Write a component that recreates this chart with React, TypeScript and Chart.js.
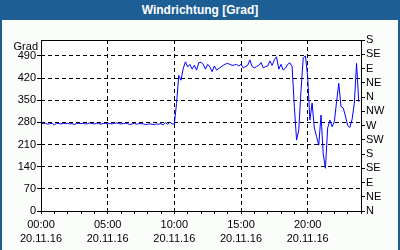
import { useEffect, useRef } from "react";
import { Chart, registerables } from "chart.js";

Chart.register(...registerables);

const titleText = "Windrichtung [Grad]";
const unitLabel = "Grad";
const sampleMinutes = 10;
const dateLabel = "20.11.16";
const xLabelHours = [0, 5, 10, 15, 20];
const xLabelTimes = ["00:00", "05:00", "10:00", "15:00", "20:00"];
const leftTicks = [0, 70, 140, 210, 280, 350, 420, 490];
const rightTickValues = [0, 45, 90, 135, 180, 225, 270, 315, 360, 405, 450, 495, 540];
const rightTickLabels = ["N", "NE", "E", "SE", "S", "SW", "W", "NW", "N", "NE", "E", "SE", "S"];

// wind direction in degrees, one value per 10 minutes from 00:00
const windDirection = [
  278, 276, 277, 274, 276, 277,
  272, 277, 276, 275, 277, 276,
  277, 275, 276, 273, 276, 277,
  276, 277, 275, 276, 278, 276,
  275, 277, 276, 274, 277, 276,
  277, 276, 275, 277, 278, 276,
  275, 276, 277, 276, 273, 275,
  277, 274, 276, 276, 275, 273,
  274, 275, 274, 273, 275, 274,
  276, 272, 279, 274, 281, 275,
  275, 340, 428, 413, 450, 471,
  455, 463, 448, 460, 445, 468,
  470, 463, 448, 463, 455, 440,
  458, 445, 450, 455, 460, 464,
  466, 463, 460, 461, 463, 458,
  463, 452, 456, 460, 477, 456,
  452, 456, 460, 469, 452, 456,
  458, 474, 460, 477, 487, 448,
  463, 445, 451, 463, 468, 456,
  330, 224, 256, 380, 483, 490,
  424, 287, 341, 262, 235, 208,
  303, 180, 135, 262, 287, 266,
  282, 345, 403, 330, 325, 300,
  270, 264, 290, 341, 466, 345,
];

const frameBlue = "#1d5f94";
const lineBlue = "#0000ff";
const panelBg = "#fbfdfb";
const fontFamily = "'Liberation Sans', Arial, sans-serif";

export default function App() {
  const canvasRef = useRef<HTMLCanvasElement | null>(null);

  useEffect(() => {
    const canvas = canvasRef.current;
    if (!canvas) return;

    const points = windDirection.map((v, i) => ({ x: (i * sampleMinutes) / 60, y: v }));

    const framePlugin = {
      id: "frame",
      beforeDraw(chart: any) {
        const { ctx, chartArea } = chart;
        ctx.save();
        ctx.fillStyle = "#ffffff";
        ctx.fillRect(chartArea.left, chartArea.top, chartArea.right - chartArea.left, chartArea.bottom - chartArea.top);
        ctx.restore();
      },
      afterDraw(chart: any) {
        const { ctx, chartArea } = chart;
        ctx.save();
        ctx.strokeStyle = "#000000";
        ctx.lineWidth = 1;
        ctx.setLineDash([]);
        ctx.strokeRect(
          chartArea.left + 0.5,
          chartArea.top + 0.5,
          chartArea.right - chartArea.left,
          chartArea.bottom - chartArea.top
        );
        ctx.fillStyle = "#000000";
        ctx.font = "11px " + fontFamily;
        ctx.textAlign = "right";
        ctx.textBaseline = "alphabetic";
        ctx.fillText(unitLabel, chartArea.left - 3, chartArea.top + 10);
        ctx.restore();
      },
    };

    const chart = new Chart(canvas, {
      type: "line",
      data: {
        datasets: [
          {
            data: points,
            borderColor: lineBlue,
            borderWidth: 1,
            pointRadius: 0,
            tension: 0,
            fill: false,
            yAxisID: "y",
          },
        ],
      },
      options: {
        responsive: false,
        animation: false,
        events: [],
        layout: { padding: { top: 20, left: 0, right: 0, bottom: 0 } },
        plugins: {
          legend: { display: false },
          tooltip: { enabled: false },
          title: { display: false },
        },
        scales: {
          x: {
            type: "linear",
            min: 0,
            max: 24,
            afterBuildTicks: (scale: any) => {
              const t = [];
              for (let h = 0; h <= 24; h++) t.push({ value: h });
              scale.ticks = t;
            },
            afterFit: (scale: any) => {
              scale.height = 39;
            },
            ticks: {
              autoSkip: false,
              maxRotation: 0,
              minRotation: 0,
              padding: 4,
              color: "#000000",
              font: { family: fontFamily, size: 11, lineHeight: 1.3 },
              callback: (value: any) => {
                const idx = xLabelHours.indexOf(Number(value));
                return idx >= 0 ? [xLabelTimes[idx], dateLabel] : "";
              },
            },
            grid: {
              color: (ctx: any) => {
                const v = ctx.tick ? ctx.tick.value : -1;
                return v > 0 && v < 24 && v % 5 === 0 ? "#000000" : "rgba(0,0,0,0)";
              },
              lineWidth: 1,
              tickColor: "#000000",
              tickLength: 3,
              tickBorderDash: [],
            },
            border: { display: false, dash: [4, 3] },
          },
          y: {
            type: "linear",
            position: "left",
            min: 0,
            max: 540,
            afterBuildTicks: (scale: any) => {
              scale.ticks = leftTicks.map((v) => ({ value: v }));
            },
            afterFit: (scale: any) => {
              scale.width = 39;
            },
            ticks: {
              autoSkip: false,
              padding: 1,
              color: "#000000",
              font: { family: fontFamily, size: 11 },
              callback: (value: any) => String(value),
            },
            grid: {
              color: (ctx: any) => {
                const v = ctx.tick ? ctx.tick.value : 0;
                return v > 0 ? "#000000" : "rgba(0,0,0,0)";
              },
              lineWidth: 1,
              tickColor: "#000000",
              tickLength: 4,
              tickBorderDash: [],
            },
            border: { display: false, dash: [4, 3] },
          },
          y1: {
            type: "linear",
            position: "right",
            min: 0,
            max: 540,
            afterBuildTicks: (scale: any) => {
              scale.ticks = rightTickValues.map((v) => ({ value: v }));
            },
            afterFit: (scale: any) => {
              scale.width = 37;
            },
            ticks: {
              autoSkip: false,
              padding: 1,
              color: "#000000",
              font: { family: fontFamily, size: 11 },
              callback: (value: any) => {
                const idx = rightTickValues.indexOf(Number(value));
                return idx >= 0 ? rightTickLabels[idx] : "";
              },
            },
            grid: {
              drawOnChartArea: false,
              tickColor: "#000000",
              tickLength: 4,
            },
            border: { display: false },
          },
        },
      },
      plugins: [framePlugin],
    } as any);

    return () => {
      chart.destroy();
    };
  }, []);

  return (
    <div
      style={{
        position: "absolute",
        left: 0,
        top: 0,
        width: 400,
        height: 250,
        background: panelBg,
        boxSizing: "border-box",
        borderLeft: `2px solid ${frameBlue}`,
        borderRight: `2px solid ${frameBlue}`,
        overflow: "hidden",
      }}
    >
      <div
        style={{
          position: "absolute",
          left: 0,
          top: 0,
          width: 396,
          height: 20,
          background: frameBlue,
          color: "#ffffff",
          fontFamily,
          fontWeight: "bold",
          fontSize: 12,
          lineHeight: "20px",
          textAlign: "center",
        }}
      >
        {titleText}
      </div>
      <canvas
        ref={canvasRef}
        width={396}
        height={230}
        style={{ position: "absolute", left: 0, top: 20, width: 396, height: 230, display: "block" }}
      />
    </div>
  );
}
